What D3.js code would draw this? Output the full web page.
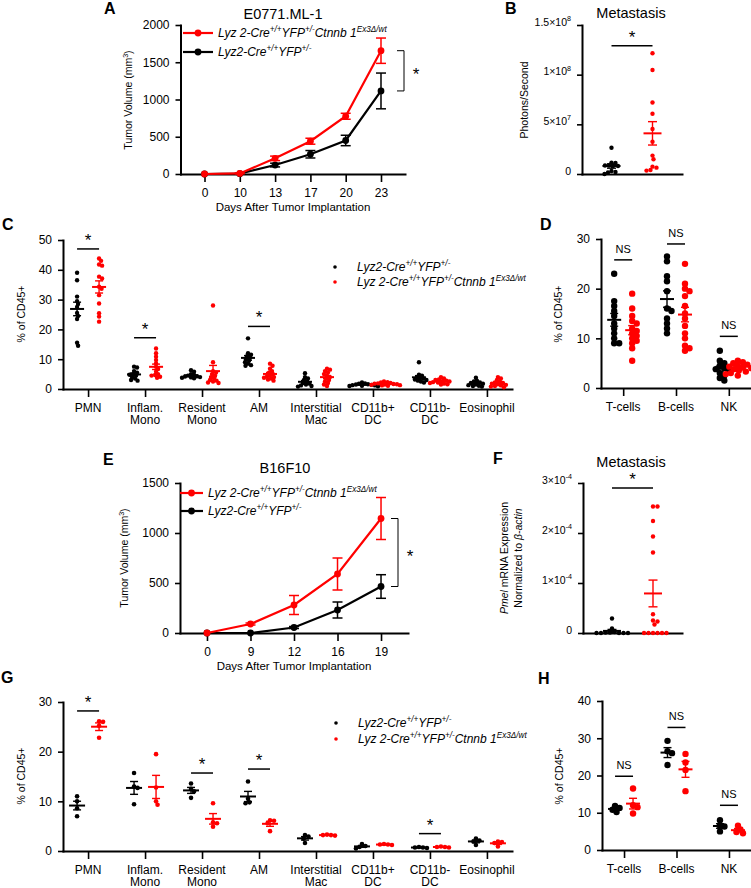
<!DOCTYPE html>
<html><head><meta charset="utf-8">
<script src="https://cdnjs.cloudflare.com/ajax/libs/d3/7.8.5/d3.min.js"></script>
<style>
body{margin:0;background:#fff;}
svg{display:block;font-family:"Liberation Sans",Arial,sans-serif;}
</style></head><body>
<svg id="fig" width="751" height="888"></svg>
<script>
// ---------------- DATA ----------------
// Panel A (E0771.ML-1 tumor growth)
const daysA = [0,10,13,17,20,23];
const volA_KO = [0,8,210,440,775,1655];
const semA_KO = [0,5,30,40,40,170];
const volA_WT = [0,5,120,265,450,1115];
const semA_WT = [0,5,25,50,70,240];
const yTicksA = [0,500,1000,1500,2000];

// Panel B (metastasis photons/second)
const photonsB_WT = [2.65e7,1.15e7,1.1e7,0.85e7,0.85e7,0.8e7,0.8e7,0.3e7,0.2e7,0.15e7,0];
const photonsB_KO = [12.15e7,10.47e7,7.2e7,6.07e7,4.53e7,3.25e7,1.85e7,1.48e7,0.74e7,0.64e7,0.4e7,0.34e7];
const yTicksB = [0,5e7,1e8,1.5e8];
const yTickMantB = ["0","5×10","1×10","1.5×10"];
const yTickExpB = ["","7","8","8"];

// Panel C (myeloid populations, E0771)
const cellsMyeloid = ["PMN","Inflam.\nMono","Resident\nMono","AM","Interstitial\nMac","CD11b+\nDC","CD11b-\nDC","Eosinophil"];
const pctC_WT = [
  [39,36.5,31,29.5,28.5,27.5,25.5,24.5,23.5,15.5,14.5],
  [7.5,7.2,6,5.5,5,4.8,4.5,4,3.5,3,2.8],
  [6.3,5.8,5,4.7,4.5,4.3,4.2,4,3.9,3.8,3.6],
  [17,12,11.5,11,10.5,10,9.5,9,8.5,8,7.8],
  [5.3,4,3.5,3,2.5,2,1.8,1.5,1.2,1,0.8],
  [2.2,1.9,1.8,1.6,1.5,1.4,1.3,1.2,1.1,1.0,0.9],
  [9,4.8,4.5,4,3.7,3.5,3.2,3,2.8,2.5,2.2],
  [3.8,2.8,2.5,2.2,2,1.8,1.5,1.3,1.1,1,0.8]
];
const pctC_KO = [
  [43.8,43,41.8,41.4,37.7,37.1,34.3,33.6,31.5,28.7,25.4,24.3,22.6],
  [13.6,12,10.8,9.7,8.6,7.5,6.7,5.8,5,4.7,4.5,4.1,3.8],
  [28,9,6,5.5,5,4.5,4,3.5,3,2.8,2.5,2.2,2],
  [8.5,7.8,6.8,6,5.5,5,4.5,4.2,4,3.8,3.5,3.2,2.8],
  [6.8,6.5,6,5.5,5,4.5,4,3.5,3,2.5,2,1.5,1],
  [2.5,2.3,2.2,2,1.9,1.8,1.7,1.6,1.5,1.4,1.3,1.2,1.1],
  [4,3.5,3.2,3,2.8,2.6,2.5,2.3,2.2,2,1.8,1.6,1.5],
  [4,3.5,3,2.5,2.2,2,1.8,1.6,1.4,1.2,1,0.8,0.6]
];
const sigC = [{cell:"PMN",v:47,label:"*"},{cell:"Inflam.\nMono",v:17.2,label:"*"},{cell:"AM",v:21,label:"*"}];
const yTicksC = [0,10,20,30,40,50];

// Panel D (lymphocytes, E0771)
const cellsLymph = ["T-cells","B-cells","NK"];
const pctD_WT = [
  [23,17.5,16.5,15.5,14.5,13,12,11,10,9,9],
  [26.5,25.5,22.5,21.5,19.5,16,15.5,14,13,12,11],
  [7.5,5.5,5,4.5,4,3.8,3.5,3,2.5,2,1.5]
];
const pctD_KO = [
  [19,16,14.5,13.5,13,12,11.5,11,10.5,10,9.5,9,8,5.5],
  [25,21,20,19.5,18.5,16.5,15,14,12.5,11,10,8.5,8,7.5],
  [5.5,5.2,5,4.7,4.5,4.3,4.1,4,3.8,3.5,3.3,3,2.8,2.5]
];
const sigD = [{cell:"T-cells",v:25.8,label:"NS"},{cell:"B-cells",v:29,label:"NS"},{cell:"NK",v:10.4,label:"NS"}];
const yTicksD = [0,10,20,30];

// Panel E (B16F10 tumor growth)
const daysE = [0,9,12,16,19];
const volE_KO = [0,90,280,590,1145];
const semE_KO = [0,10,95,160,210];
const volE_WT = [0,0,55,230,465];
const semE_WT = [0,0,10,80,118];
const yTicksE = [0,500,1000,1500];

// Panel F (Pmel expression)
const pmelF_WT = [0.29e-4,0.09e-4,0.02e-4,0.01e-4,0.01e-4,0,0,0,0,0];
const pmelF_KO = [2.53e-4,2.53e-4,2.24e-4,1.93e-4,1.61e-4,0.375e-4,0.25e-4,0.23e-4,0.17e-4,0,0,0,0,0,0];
const yTicksF = [0,1e-4,2e-4,3e-4];
const yTickMantF = ["0","1×10","2×10","3×10"];
const yTickExpF = ["","-4","-4","-4"];

// Panel G (myeloid populations, B16F10)
const pctG_WT = [
  [11,10,8.6,7],[15.7,13,12.7,9.4],[13.6,12.5,12,10.7],[14,10.5,9.8,9.6],
  [3.2,2.9,2.5,1.6],[1.4,1.0,0.8,0.5],[0.8,0.7,0.7,0.6],[2.5,2.1,1.9,1.2]
];
const pctG_KO = [
  [26.1,26,25.2,22.8],[19.5,12.8,10,9.3],[9.6,5.8,5.6,4.9],[6.2,6.1,5.6,4.0],
  [3.3,3.2,3.2,3.1],[1.4,1.3,1.3,1.2],[0.9,0.8,0.8,0.7],[1.9,1.8,1.6,0.9]
];
const sigG = [{cell:"PMN",v:28.2,label:"*"},{cell:"Resident\nMono",v:15.7,label:"*"},{cell:"AM",v:16.5,label:"*"},{cell:"CD11b-\nDC",v:3.5,label:"*"}];
const yTicksG = [0,10,20,30];

// Panel H (lymphocytes, B16F10)
const pctH_WT = [[11.8,11.3,10.8,10.2],[29.3,26.5,26,22.8],[8,6.5,6.3,5]];
const pctH_KO = [[16.5,12,11.5,9.8],[25.8,23.5,21.5,15.8],[6.5,5.5,4.8,4.5]];
const sigH = [{cell:"T-cells",v:19.8,label:"NS"},{cell:"B-cells",v:32.9,label:"NS"},{cell:"NK",v:12,label:"NS"}];
const yTicksH = [0,10,20,30,40];

// Legend text
const legendWT = [{t:"Lyz2-Cre",i:1},{t:"+/+",sup:1,i:1},{t:"YFP",i:1},{t:"+/-",sup:1,i:1}];
const legendKO = [{t:"Lyz 2-Cre",i:1},{t:"+/+",sup:1,i:1},{t:"YFP",i:1},{t:"+/-",sup:1,i:1},{t:"Ctnnb 1",i:1},{t:"Ex3Δ/wt",sup:1,i:1}];

// ---------------- DRAWING ----------------
const svg = d3.select("#fig");
const RED = "#ff0000", BLK = "#000000";
const FONT = '"Liberation Sans", Arial, sans-serif';

function rich(textSel, parts, size){
  let shift = 0;
  parts.forEach(p=>{
    if(!p.t) return;
    const target = p.sup ? -size*0.42 : 0;
    const t = textSel.append("tspan").text(p.t).attr("dy", (target-shift).toFixed(2));
    shift = target;
    if(p.i) t.attr("font-style","italic");
    if(p.sup) t.attr("font-size", size*0.68);
  });
}
function styleAxis(g, fs){
  g.attr("font-size",fs).attr("font-family",FONT);
  g.select(".domain").attr("stroke","#000").attr("stroke-width",2).attr("stroke-linecap","square");
  g.selectAll(".tick line").attr("stroke","#000").attr("stroke-width",1.6);
  g.selectAll(".tick text").attr("fill","#000");
}
function txt(x,y,s,fs,opts={}){
  const t = svg.append("text").attr("x",x).attr("y",y).attr("font-size",fs).attr("fill",opts.fill||"#000")
    .attr("text-anchor",opts.anchor||"start").text(s);
  if(opts.bold) t.attr("font-weight","bold");
  return t;
}
function ylabel(x,y,parts,fs){
  const t = svg.append("text").attr("transform",`translate(${x},${y}) rotate(-90)`)
     .attr("text-anchor","middle").attr("font-size",fs).attr("dy","0.35em");
  rich(t,parts,fs);
  return t;
}
function swarm(vals,y,cx,r,sep){
  const placed=[];
  const sorted = vals.map(v=>({v,py:y(v)})).sort((a,b)=>a.py-b.py);
  const minD2 = (sep*r)*(sep*r);
  sorted.forEach(p=>{
    for(let k=0;k<400;k++){
      const dx = (k%2 ? 1 : -1)*Math.ceil(k/2)*0.5;
      const px = cx+dx;
      let ok = true;
      for(const q of placed){
        const ddx=px-q.x, ddy=p.py-q.y;
        if(ddx*ddx+ddy*ddy<minD2){ok=false;break;}
      }
      if(ok){placed.push({x:px,y:p.py,v:p.v});break;}
    }
  });
  return placed;
}

function scatterPanel(o){
  const g = svg.append("g");
  const x = d3.scalePoint().domain(o.cats).range([o.x0,o.x1]).padding(o.pad);
  const y = d3.scaleLinear().domain([0,o.yMax]).range([o.yb,o.yt]);
  const yg = g.append("g").attr("transform",`translate(${o.x0},0)`)
    .call(d3.axisLeft(y).tickValues(o.yTicks).tickSize(5).tickPadding(6).tickSizeOuter(0).tickFormat(d3.format("d")));
  styleAxis(yg, o.tickFs||12);
  if(o.tickMant){
    yg.selectAll(".tick text").each(function(d,i){
      const t = d3.select(this).text("");
      rich(t,[{t:o.tickMant[i]},{t:o.tickExp[i],sup:1}],o.tickFs||12);
    });
  }
  const xg = g.append("g").attr("transform",`translate(0,${o.yb})`)
    .call(d3.axisBottom(x).tickSize(o.noXTicks?0:8).tickSizeOuter(0).tickFormat(""));
  styleAxis(xg,12);
  if(!o.noXTicks){
    o.cats.forEach(c=>{
      const lines = c.split("\n");
      const t = g.append("text").attr("x",x(c)).attr("y",o.yb+14).attr("text-anchor","middle").attr("font-size",12);
      lines.forEach((l,li)=>t.append("tspan").attr("x",x(c)).attr("dy",li===0?"0.71em":"1.04em").text(l));
    });
  }
  const groups = [{data:o.wt,color:BLK,off:-o.off},{data:o.ko,color:RED,off:o.off}];
  groups.forEach(gr=>{
    o.cats.forEach((c,ci)=>{
      const vals = gr.data[ci];
      const cx = x(c)+gr.off;
      const pts = swarm(vals,y,cx,o.r,o.sep);
      g.append("g").selectAll("circle").data(pts).join("circle")
        .attr("cx",d=>d.x).attr("cy",d=>d.y).attr("r",o.r).attr("fill",gr.color);
      const m = d3.mean(vals), se = d3.deviation(vals)/Math.sqrt(vals.length);
      const eg = g.append("g").attr("stroke",gr.color).attr("fill","none");
      eg.append("line").attr("x1",cx-o.meanHW).attr("x2",cx+o.meanHW).attr("y1",y(m)).attr("y2",y(m)).attr("stroke-width",2);
      eg.append("line").attr("x1",cx).attr("x2",cx).attr("y1",y(Math.max(0,m-se))).attr("y2",y(m+se)).attr("stroke-width",1.4);
      [m-se,m+se].forEach(v=>{ if(v<0) return;
        eg.append("line").attr("x1",cx-o.capHW).attr("x2",cx+o.capHW).attr("y1",y(v)).attr("y2",y(v)).attr("stroke-width",1.4);});
    });
  });
  (o.sig||[]).forEach(s=>{
    const yy = y(s.v);
    g.append("line").attr("x1",x(s.cell)-o.off).attr("x2",x(s.cell)+o.off).attr("y1",yy).attr("y2",yy)
      .attr("stroke","#000").attr("stroke-width",1.5);
    if(s.label==="*") g.append("text").attr("x",x(s.cell)).attr("y",yy-3).attr("text-anchor","middle").attr("font-size",17).text("*");
    else g.append("text").attr("x",x(s.cell)).attr("y",yy-7).attr("text-anchor","middle").attr("font-size",11).text(s.label);
  });
  return {x,y};
}

function linePanel(o){
  const g = svg.append("g");
  const x = d3.scalePoint().domain(o.days).range([o.x0,o.x1]).padding(o.pad);
  const y = d3.scaleLinear().domain([0,o.yMax]).range([o.yb,o.yt]);
  const yg = g.append("g").attr("transform",`translate(${o.x0},0)`)
    .call(d3.axisLeft(y).tickValues(o.yTicks).tickSize(5).tickPadding(6).tickSizeOuter(0).tickFormat(d3.format("d")));
  styleAxis(yg,12);
  const xg = g.append("g").attr("transform",`translate(0,${o.yb})`)
    .call(d3.axisBottom(x).tickSize(8).tickPadding(6).tickSizeOuter(0));
  styleAxis(xg,12);
  const series = [{v:o.wt,s:o.wtSem,c:BLK},{v:o.ko,s:o.koSem,c:RED}];
  series.forEach(se=>{
    const eg = g.append("g").attr("stroke",se.c).attr("stroke-width",1.5);
    se.v.forEach((v,i)=>{
      const s = se.s[i]; if(!s) return;
      const xx = x(o.days[i]);
      eg.append("line").attr("x1",xx).attr("x2",xx).attr("y1",y(Math.max(0,v-s))).attr("y2",y(v+s));
      [v-s,v+s].forEach(b=>{ if(b<0) return;
        eg.append("line").attr("x1",xx-5).attr("x2",xx+5).attr("y1",y(b)).attr("y2",y(b));});
    });
    g.append("path").datum(se.v).attr("fill","none").attr("stroke",se.c).attr("stroke-width",2.2)
      .attr("d",d3.line().x((d,i)=>x(o.days[i])).y(d=>y(d)));
    g.append("g").selectAll("circle").data(se.v).join("circle")
      .attr("cx",(d,i)=>x(o.days[i])).attr("cy",d=>y(d)).attr("r",3.4).attr("fill",se.c);
  });
  // significance bracket
  const y1 = y(o.ko[o.ko.length-1]), y2 = y(o.wt[o.wt.length-1]);
  const bx = o.bracketX;
  g.append("path").attr("fill","none").attr("stroke","#000").attr("stroke-width",1)
    .attr("d",`M${bx-7},${y1}H${bx}V${y2}H${bx-7}`);
  g.append("text").attr("x",bx+12).attr("y",(y1+y2)/2+9).attr("text-anchor","middle").attr("font-size",17).text("*");
  // legend
  const leg = [{parts:legendKO,c:RED,y:o.legY[0]},{parts:legendWT,c:BLK,y:o.legY[1]}];
  leg.forEach(l=>{
    g.append("line").attr("x1",o.legX[0]).attr("x2",o.legX[1]).attr("y1",l.y).attr("y2",l.y).attr("stroke",l.c).attr("stroke-width",2.2);
    g.append("circle").attr("cx",(o.legX[0]+o.legX[1])/2).attr("cy",l.y).attr("r",3.4).attr("fill",l.c);
    const t = g.append("text").attr("x",o.legX[1]+5).attr("y",l.y+4).attr("font-size",12);
    rich(t,l.parts,12);
  });
  return {x,y};
}

function dotLegend(x,y0,dy){
  [{parts:legendWT,c:BLK},{parts:legendKO,c:RED}].forEach((l,i)=>{
    const yy = y0+i*dy;
    svg.append("circle").attr("cx",x).attr("cy",yy).attr("r",1.8).attr("fill",l.c);
    const t = svg.append("text").attr("x",x+22).attr("y",yy+4).attr("font-size",12);
    rich(t,l.parts,12);
  });
}

// ---- Panel A
linePanel({days:daysA,x0:180.5,x1:405,pad:0.68,yt:25,yb:174,yMax:2000,yTicks:yTicksA,
  wt:volA_WT,wtSem:semA_WT,ko:volA_KO,koSem:semA_KO,bracketX:404,legX:[183,213],legY:[33,52]});
txt(104,14,"A",16,{bold:1});
txt(283,19,"E0771.ML-1",14.5,{anchor:"middle"});
txt(293,211,"Days After Tumor Implantation",11.5,{anchor:"middle"});
ylabel(132,100,[{t:"Tumor Volume (mm"},{t:"3",sup:1},{t:")"}],10.5);

// ---- Panel B
scatterPanel({cats:[""],x0:582,x1:682,pad:0.5,yt:25,yb:174,yMax:1.5e8,yTicks:yTicksB,
  tickMant:yTickMantB,tickExp:yTickExpB,tickFs:10.5,noXTicks:true,
  wt:[photonsB_WT],ko:[photonsB_KO],off:20.5,r:2.2,sep:1.7,meanHW:9,capHW:4.5,
  sig:[{cell:"",v:1.29e8,label:"*"}]});
txt(505,14,"B",16,{bold:1});
txt(631,18,"Metastasis",14.5,{anchor:"middle"});
ylabel(528,100,[{t:"Photons/Second"}],10.5);

// ---- Panel C
scatterPanel({cats:cellsMyeloid,x0:63,x1:512,pad:0.44,yt:240,yb:389,yMax:50,yTicks:yTicksC,
  wt:pctC_WT,ko:pctC_KO,off:11,r:2.2,sep:1.4,meanHW:7,capHW:4,sig:sigC});
txt(2,230,"C",16,{bold:1});
ylabel(25,314,[{t:"% of CD45+"}],10.5);
dotLegend(335,267,15);

// ---- Panel D
scatterPanel({cats:cellsLymph,x0:601,x1:751,pad:0.42,yt:239,yb:388,yMax:30,yTicks:yTicksD,
  wt:pctD_WT,ko:pctD_KO,off:9,r:3.2,sep:1.55,meanHW:7,capHW:4,sig:sigD});
txt(540,230,"D",16,{bold:1});
ylabel(562,314,[{t:"% of CD45+"}],10.5);

// ---- Panel E
linePanel({days:daysE,x0:180,x1:408,pad:0.62,yt:483,yb:633,yMax:1500,yTicks:yTicksE,
  wt:volE_WT,wtSem:semE_WT,ko:volE_KO,koSem:semE_KO,bracketX:398,legX:[180,203],legY:[493,511]});
txt(103,465,"E",16,{bold:1});
txt(285,473,"B16F10",14.5,{anchor:"middle"});
txt(294,670,"Days After Tumor Implantation",11.5,{anchor:"middle"});
ylabel(128,558,[{t:"Tumor Volume (mm"},{t:"3",sup:1},{t:")"}],10.5);

// ---- Panel F
scatterPanel({cats:[""],x0:583,x1:682,pad:0.5,yt:483,yb:633,yMax:3e-4,yTicks:yTicksF,
  tickMant:yTickMantF,tickExp:yTickExpF,tickFs:10.5,noXTicks:true,
  wt:[pmelF_WT],ko:[pmelF_KO],off:20.5,r:2.2,sep:1.9,meanHW:9,capHW:4.5,
  sig:[{cell:"",v:2.9e-4,label:"*"}]});
txt(493,464,"F",16,{bold:1});
txt(631,467,"Metastasis",14.5,{anchor:"middle"});
ylabel(508,558,[{t:"Pmel",i:1},{t:" mRNA Expression"}],10.5);
ylabel(522,558,[{t:"Normalized to "},{t:"β-actin",i:1}],10.5);

// ---- Panel G
scatterPanel({cats:cellsMyeloid,x0:63,x1:512,pad:0.44,yt:702,yb:851,yMax:30,yTicks:yTicksG,
  wt:pctG_WT,ko:pctG_KO,off:11,r:2.3,sep:1.6,meanHW:8,capHW:4,sig:sigG});
txt(1,683,"G",16,{bold:1});
ylabel(25,776,[{t:"% of CD45+"}],10.5);
dotLegend(336,723,16);

// ---- Panel H
scatterPanel({cats:cellsLymph,x0:602,x1:751,pad:0.42,yt:701,yb:850,yMax:40,yTicks:yTicksH,
  wt:pctH_WT,ko:pctH_KO,off:9,r:3.2,sep:1.4,meanHW:7,capHW:4,sig:sigH});
txt(538,684,"H",16,{bold:1});
ylabel(563,776,[{t:"% of CD45+"}],10.5);
</script>
</body></html>
